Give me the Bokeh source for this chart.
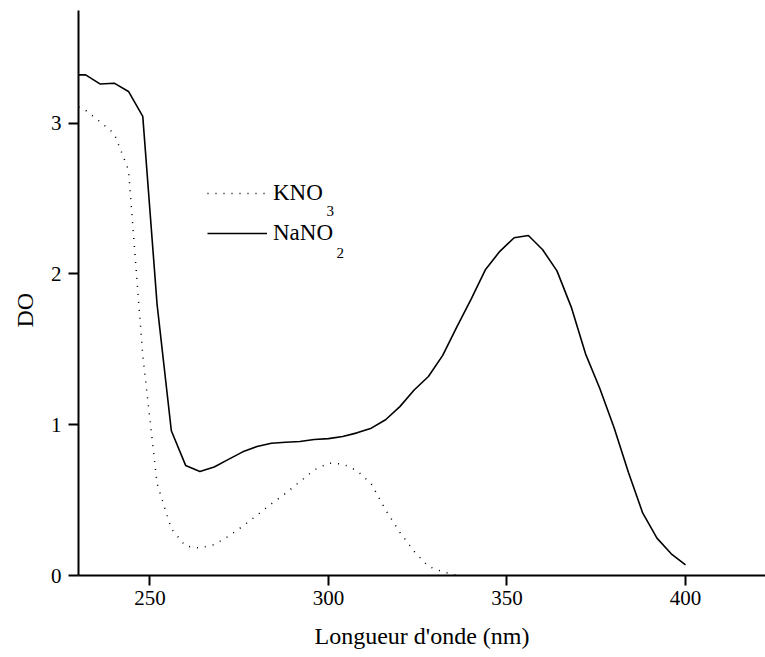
import math
from bokeh.plotting import figure
from bokeh.models import Range1d, FixedTicker, Legend, LegendItem, Label, Title
from bokeh.embed import file_html
from bokeh.resources import INLINE

# ---- data ----
wavelength_nano2 = [228, 232, 236, 240, 244, 248, 252, 256, 260, 264,
                    268, 272, 276, 280, 284, 288, 292, 296, 300, 304,
                    308, 312, 316, 320, 324, 328, 332, 336, 340, 344,
                    348, 352, 356, 360, 364, 368, 372, 376, 380, 384,
                    388, 392, 396, 400]
do_nano2 = [3.32, 3.32, 3.26, 3.265, 3.21, 3.045, 1.80, 0.96, 0.73, 0.69,
            0.72, 0.77, 0.82, 0.855, 0.877, 0.884, 0.889, 0.902, 0.908, 0.922,
            0.946, 0.977, 1.033, 1.12, 1.23, 1.32, 1.46, 1.65, 1.835, 2.03,
            2.15, 2.24, 2.255, 2.16, 2.02, 1.78, 1.47, 1.24, 0.98, 0.685,
            0.415, 0.248, 0.144, 0.071]

wavelength_kno3 = [228, 232, 236, 240, 244, 248, 252, 256, 260, 264,
                   268, 272, 276, 280, 284, 288, 292, 296, 300, 304,
                   308, 312, 316, 320, 324, 328, 332, 336]
do_kno3 = [3.13, 3.085, 3.01, 2.93, 2.69, 1.46, 0.61, 0.31, 0.195, 0.182,
           0.205, 0.26, 0.327, 0.40, 0.475, 0.545, 0.622, 0.70, 0.745, 0.74,
           0.695, 0.608, 0.435, 0.287, 0.16, 0.06, 0.025, 0.0]

x_ticks = [250, 300, 350, 400]
y_ticks = [0, 1, 2, 3]
x_label = "Longueur d'onde (nm)"
y_label = "DO"
series_names = ["KNO", "NaNO"]
series_subscripts = ["3", "2"]

FONT = "Liberation Serif"

p = figure(width=765, height=657, output_backend="svg", toolbar_location=None,
           x_range=Range1d(230, 422.4), y_range=Range1d(0, 3.747),
           min_border_left=78, min_border_right=0, min_border_top=10,
           min_border_bottom=82)
p.outline_line_color = None
p.grid.visible = False
p.background_fill_color = "white"
p.border_fill_color = "white"

r_kno3 = p.line(wavelength_kno3, do_kno3, line_color="black", line_width=1.5,
                line_dash="1 7")
r_nano2 = p.line(wavelength_nano2, do_nano2, line_color="black", line_width=1.6)

for ax in (p.xaxis[0], p.yaxis[0]):
    ax.axis_line_width = 2
    ax.axis_line_color = "black"
    ax.major_tick_line_width = 2
    ax.major_tick_line_color = "black"
    ax.major_tick_in = 0
    ax.major_tick_out = 10
    ax.minor_tick_line_color = None
    ax.major_label_text_font = FONT
    ax.major_label_text_font_size = "21px"
    ax.major_label_text_color = "black"

p.xaxis.ticker = FixedTicker(ticks=x_ticks)
p.yaxis.ticker = FixedTicker(ticks=y_ticks)
p.xaxis.major_label_standoff = 5
p.yaxis.major_label_standoff = 7
p.xaxis.axis_label = x_label
p.xaxis.axis_label_text_font = FONT
p.xaxis.axis_label_text_font_size = "24px"
p.xaxis.axis_label_text_font_style = "normal"
p.xaxis.axis_label_text_color = "black"
p.xaxis.axis_label_standoff = 15

# y axis title, rotated, left of the axis
p.add_layout(Title(text=y_label, align="left", vertical_align="top",
                   offset=248, standoff=15,
                   text_font=FONT, text_font_size="24px",
                   text_font_style="normal", text_color="black"), "left")

legend = Legend(items=[LegendItem(label=series_names[0], renderers=[r_kno3]),
                       LegendItem(label=series_names[1], renderers=[r_nano2])],
                location=(129, 322), orientation="vertical",
                border_line_color=None, background_fill_alpha=0,
                padding=0, margin=0, spacing=0,
                glyph_width=60, glyph_height=40, label_height=40,
                label_standoff=6,
                label_text_font=FONT, label_text_font_size="23px",
                label_text_color="black")
p.add_layout(legend, "center")

# subscripts of the legend labels
p.add_layout(Label(x=248, y=365, x_units="screen", y_units="screen",
                   text=series_subscripts[0], text_font=FONT,
                   text_font_size="15px", text_color="black",
                   text_baseline="alphabetic"))
p.add_layout(Label(x=258, y=323, x_units="screen", y_units="screen",
                   text=series_subscripts[1], text_font=FONT,
                   text_font_size="15px", text_color="black",
                   text_baseline="alphabetic"))

open("out.html", "w").write(file_html(p, INLINE))
